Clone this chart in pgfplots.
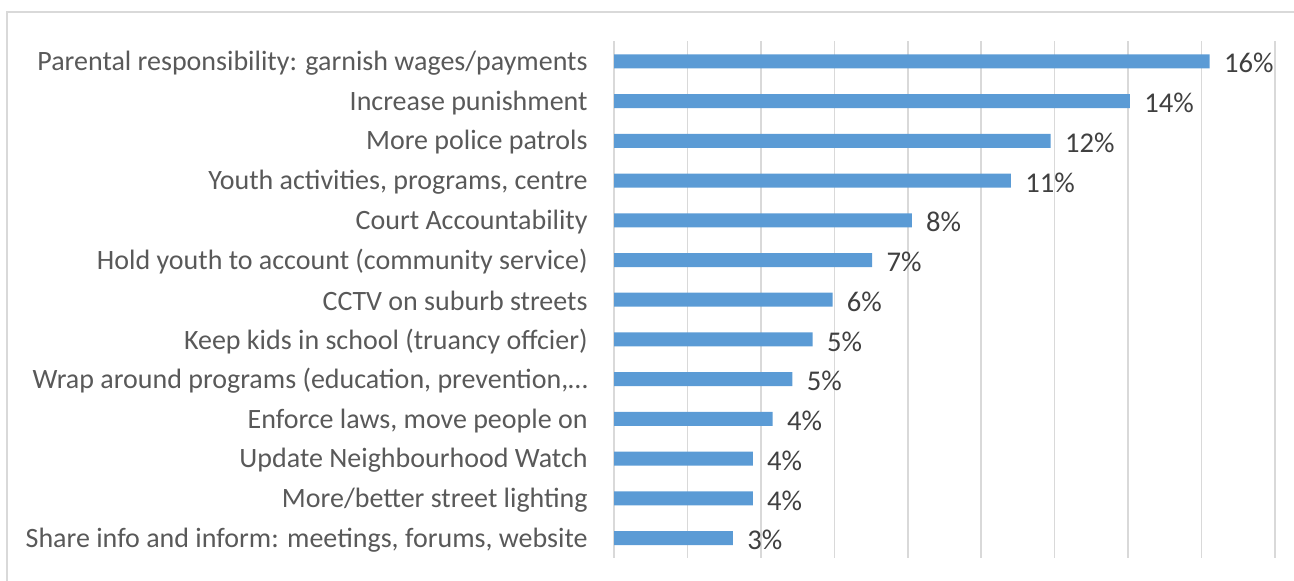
\documentclass[border=0pt]{standalone}
\usepackage{fontspec}
\setmainfont{Carlito}
\usepackage{pgfplots}
\pgfplotsset{compat=1.18}
\definecolor{barblue}{HTML}{5B9BD5}
\definecolor{gridgray}{HTML}{D9D9D9}
\definecolor{labgray}{HTML}{595959}
\definecolor{numgray}{HTML}{404040}
\begin{document}
\begin{tikzpicture}[x=1pt,y=1pt]
\useasboundingbox (0,0) rectangle (647,290.5);
\draw[gridgray, line width=0.8pt] (3.6,0) -- (3.6,284.5) -- (647,284.5);
\begin{axis}[
  at={(307pt,11.5pt)}, anchor=south west,
  scale only axis, width=330.5pt, height=258.25pt,
  xmin=0, xmax=18, ymin=-0.5, ymax=12.5,
  y dir=reverse,
  xbar, bar width=7pt,
  xtick={0,2,...,18}, xticklabels={},
  xmajorgrids, grid style={gridgray, line width=0.8pt},
  major tick length=0pt,
  axis line style={draw=none},
  ytick={0,...,12},
  yticklabels={
    Parental responsibility: garnish wages/payments,
    Increase punishment,
    More police patrols,
    {Youth activities, programs, centre},
    Court Accountability,
    Hold youth to account (community service),
    CCTV on suburb streets,
    Keep kids in school (truancy offcier),
    {Wrap around programs (education, prevention,…},
    {Enforce laws, move people on},
    Update Neighbourhood Watch,
    More/better street lighting,
    {Share info and inform: meetings, forums, website}},
  yticklabel style={font=\fontsize{14}{16}\selectfont, text=labgray, anchor=east, inner sep=0pt, xshift=-13pt, yshift=-0.8pt},
  /pgf/number format/assume math mode=true,
  nodes near coords={\pgfmathprintnumber[fixed,precision=0]{\pgfplotspointmeta}\%},
  nodes near coords style={font=\fontsize{14.3}{16}\selectfont, text=numgray, anchor=west, inner sep=0pt, xshift=7pt, yshift=-1pt},
  clip=false,
]
\addplot[fill=barblue, draw=none] coordinates {
  (16.22,0) (14.05,1) (11.89,2) (10.81,3) (8.11,4) (7.03,5) (5.95,6)
  (5.41,7) (4.86,8) (4.32,9) (3.78,10) (3.78,11) (3.24,12)};
\end{axis}
\end{tikzpicture}
\end{document}
